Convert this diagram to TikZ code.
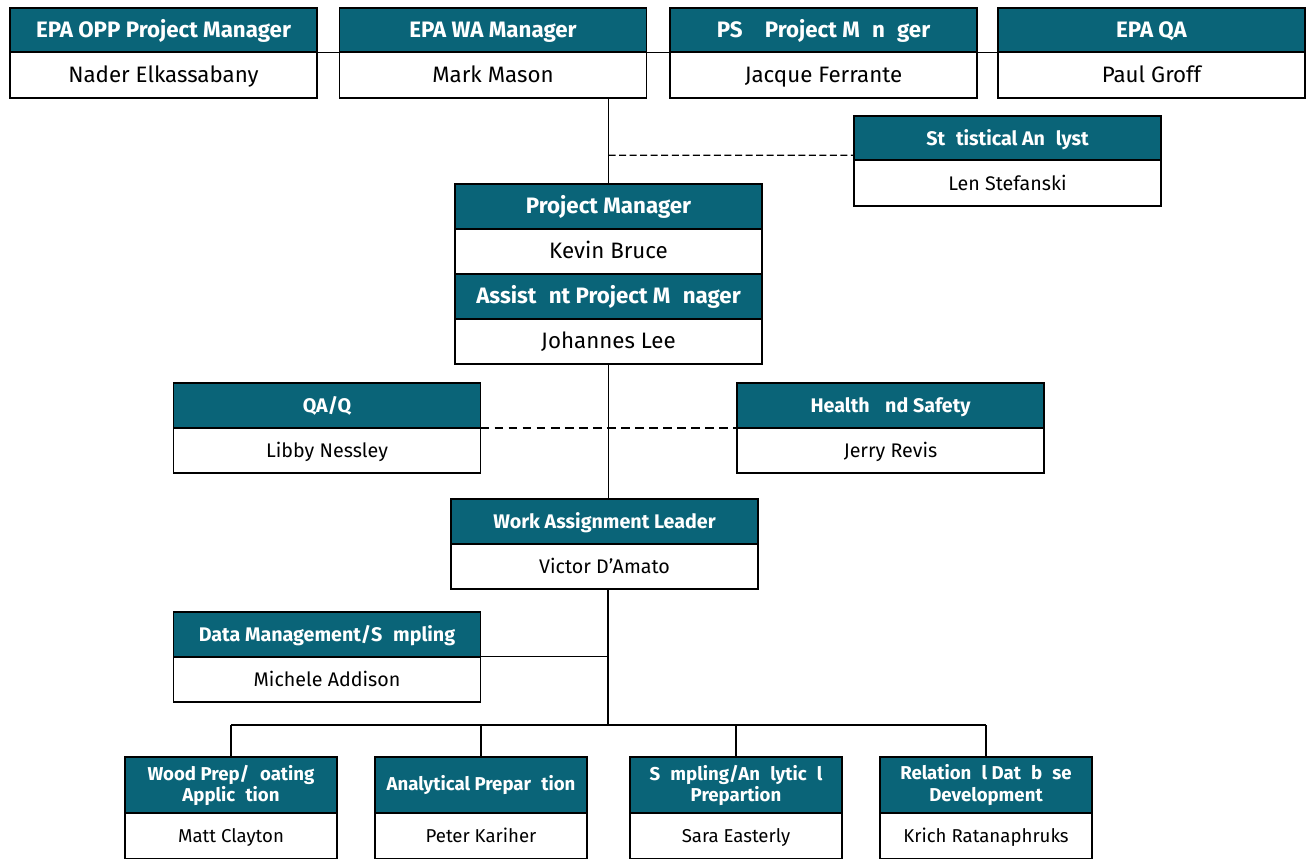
\documentclass[tikz,border=0pt]{standalone}
\usepackage{fontspec}
\setmainfont{Fira Sans}
\usetikzlibrary{positioning}
\definecolor{orgteal}{HTML}{0A6478}

\begin{document}
\begin{tikzpicture}[x=0.02cm,y=-0.02cm,
    rolebox/.style={draw=black,line width=1pt,outer sep=0pt,fill=orgteal,text=white,
      minimum width=6.14cm,minimum height=0.89cm,inner sep=1pt,align=center},
    personbox/.style={draw=black,line width=1pt,outer sep=0pt,fill=white,
      minimum width=6.14cm,minimum height=0.91cm,inner sep=1pt},
    oneline/.style={text height=0.9em,text depth=0.08em},
    big/.style={font=\fontsize{12.7}{14}\selectfont,oneline},
    mid/.style={font=\fontsize{11.2}{13}\selectfont,oneline},
    small/.style={font=\fontsize{10.6}{12}\selectfont,minimum width=4.24cm},
    link/.style={line width=0.6pt}]
  \useasboundingbox (0,0) rectangle (1307,859);
  % top row
  \node[rolebox,big] (oppH) at (163.5,30) {\bfseries EPA OPP Project Manager};
  \node[personbox,big,below=0pt of oppH] (oppN) {Nader Elkassabany};
  \node[rolebox,big] (waH) at (493,30) {\bfseries EPA WA Manager};
  \node[personbox,big,below=0pt of waH] (waN) {Mark Mason};
  \node[rolebox,big] (psH) at (823.5,30) {\bfseries PS\quad Project M\phantom{a}n\phantom{a}ger};
  \node[personbox,big,below=0pt of psH] (psN) {Jacque Ferrante};
  \node[rolebox,big] (qaH) at (1151.5,30) {\bfseries EPA QA};
  \node[personbox,big,below=0pt of qaH] (qaN) {Paul Groff};
  \node[rolebox,mid] (statH) at (1007.5,138) {\bfseries St\phantom{a}tistical An\phantom{a}lyst};
  \node[personbox,mid,below=0pt of statH] (statN) {Len Stefanski};
  % project management
  \node[rolebox,big] (pmH) at (608.5,206.5) {\bfseries Project Manager};
  \node[personbox,big,below=0pt of pmH] (pmN) {Kevin Bruce};
  \node[rolebox,big,below=0pt of pmN] (apmH) {\bfseries Assist\phantom{a}nt Project M\phantom{a}nager};
  \node[personbox,big,below=0pt of apmH] (apmN) {Johannes Lee};
  \node[rolebox,mid] (qaqH) at (327,405.5) {\bfseries QA/Q};
  \node[personbox,mid,below=0pt of qaqH] (qaqN) {Libby Nessley};
  \node[rolebox,mid] (hsH) at (890.5,405.5) {\bfseries Health \phantom{a}nd Safety};
  \node[personbox,mid,below=0pt of hsH] (hsN) {Jerry Revis};
  \node[rolebox,mid] (walH) at (604.5,521.5) {\bfseries Work Assignment Leader};
  \node[personbox,mid,below=0pt of walH] (walN) {Victor D’Amato};
  \node[rolebox,mid] (dmH) at (327,634.5) {\bfseries Data Management/S\phantom{a}mpling};
  \node[personbox,mid,below=0pt of dmH] (dmN) {Michele Addison};
  % task leads
  \node[rolebox,small,minimum height=1.12cm] (woodH) at (231,785) {\bfseries Wood Prep/\phantom{C}oating\\\bfseries Applic\phantom{a}tion};
  \node[personbox,small,oneline,below=0pt of woodH] (woodN) {Matt Clayton};
  \node[rolebox,small,minimum height=1.12cm] (anaH) at (481,785) {\bfseries Analytical Prepar\phantom{a}tion};
  \node[personbox,small,oneline,below=0pt of anaH] (anaN) {Peter Kariher};
  \node[rolebox,small,minimum height=1.12cm] (sampH) at (736,785) {\bfseries S\phantom{a}mpling/An\phantom{a}lytic\phantom{a}l\\\bfseries Prepartion};
  \node[personbox,small,oneline,below=0pt of sampH] (sampN) {Sara Easterly};
  \node[rolebox,small,minimum height=1.12cm] (dbH) at (986,785) {\bfseries Relation\phantom{a}l Dat\phantom{a}b\phantom{a}se\\\bfseries Development};
  \node[personbox,small,oneline,below=0pt of dbH] (dbN) {Krich Ratanaphruks};
  % connectors
  \coordinate (bus) at (608,725);
  \draw[link] (oppH.south east) -- (waH.south west);
  \draw[link] (waH.south east) -- (psH.south west);
  \draw[link] (psH.south east) -- (qaH.south west);
  \draw[link] (pmH.north |- waN.south) -- (pmH.north);
  \draw[link,dash pattern=on 4pt off 2pt] (pmH.north |- statH.south west) ++(0,-5) -- ([yshift=0.1cm]statH.south west);
  \draw[link] (apmN.south) -- (apmN.south |- walH.north);
  \draw[link,line width=1pt,dash pattern=on 5pt off 3pt] (qaqH.south east) -- (hsH.south west);
  \draw[link] (bus |- walN.south) -- (bus);
  \draw[link] (dmH.south east) -- (dmH.south east -| bus);
  \draw[link] (woodH.north |- bus) -- (dbH.north |- bus);
  \foreach \t in {woodH,anaH,sampH,dbH}
    \draw[link] (\t.north |- bus) -- (\t.north);
\end{tikzpicture}
\end{document}
